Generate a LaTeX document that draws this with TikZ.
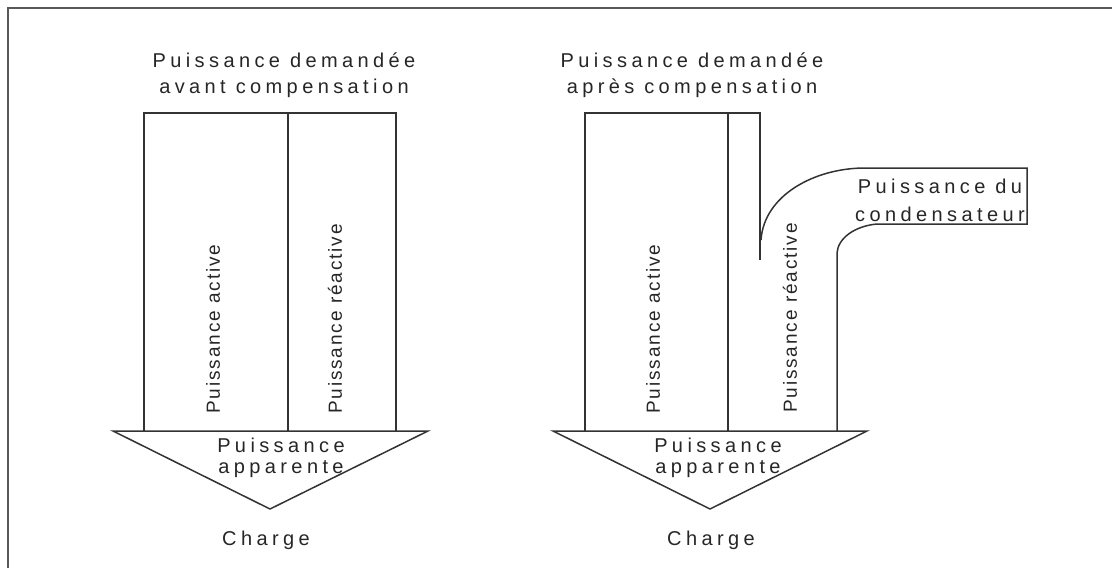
\documentclass[tikz,border=0pt]{standalone}
\usepackage{fontspec}
\setmainfont{Liberation Sans}
\newfontfamily\widesp[LetterSpace=22]{Liberation Sans}
\newfontfamily\narrsp[LetterSpace=10]{Liberation Sans}
\begin{document}
\begin{tikzpicture}[x=1pt,y=-1pt,line join=miter,
  shp/.style={draw=black!80, line width=1.5pt},
  frm/.style={draw=black!65, line width=2pt},
  lbl/.style={text=black!85, font=\widesp\fontsize{20}{26}\selectfont, align=center, inner sep=0pt},
  small/.style={text=black!85, font=\widesp\fontsize{20}{21}\selectfont, align=center, inner sep=0pt},
  vlbl/.style={text=black!85, font=\narrsp\fontsize{19}{22}\selectfont, rotate=90, inner sep=0pt}]
\useasboundingbox (0,0) rectangle (1112,568);
\draw[frm] (8,568) -- (8,8) -- (1112,8);

% left diagram
\draw[shp] (144,431) -- (144,113) -- (396,113) -- (396,431);
\draw[shp] (288,113) -- (288,431);
\draw[shp] (113,431) -- (428,431) -- (270,509) -- cycle;
\node[lbl] (t1) at (284,75) {Puissance demandée\\avant compensation};
\node[vlbl] (a1) at (213,329) {Puissance active};
\node[vlbl] (r1) at (335,319) {Puissance réactive};
\node[small] (s1) at (281,458) {Puissance\\apparente};
\node[lbl] (c1) at (266,540) {Charge};

% right diagram
\draw[shp] (585,431) -- (585,113) -- (760,113) -- (760,260);
\draw[shp] (728,113) -- (728,431);
\draw[shp] (761,240) .. controls (764,195) and (815,168) .. (865,168) -- (1027,168) -- (1027,224) -- (877,224) .. controls (855,226) and (838,238) .. (837,253) -- (837,431);
\draw[shp] (553,431) -- (867,431) -- (710,509) -- cycle;
\node[lbl] (t2) at (692,75) {Puissance demandée\\après compensation};
\node[vlbl] (a2) at (653,329) {Puissance active};
\node[vlbl] (r2) at (790,318) {Puissance réactive};
\node[lbl, font=\widesp\fontsize{20}{28}\selectfont] (cd) at (940,200) {Puissance du\\condensateur};
\node[small] (s2) at (718,458) {Puissance\\apparente};
\node[lbl] (c2) at (711,540) {Charge};
\end{tikzpicture}
\end{document}
